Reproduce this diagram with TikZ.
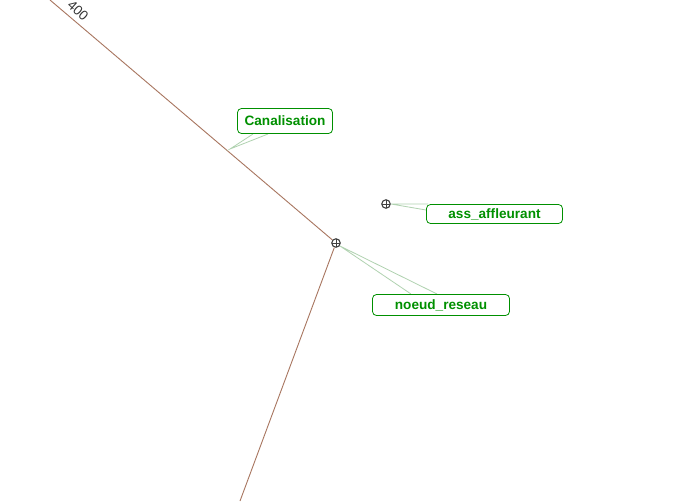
\documentclass[tikz,border=0pt]{standalone}
\usepackage{fontspec}
\setmainfont{Liberation Sans}
\definecolor{boxgreen}{HTML}{009000}
\definecolor{tailgreen}{HTML}{B0D2B0}
\definecolor{pipe}{HTML}{A87660}
\tikzset{
  label box/.style={draw=boxgreen,fill=white,rounded corners=4pt,line width=0.8pt,text=boxgreen,inner sep=0pt,font=\fontsize{13.6}{15}\selectfont\bfseries,align=center},
  tail/.style={draw=tailgreen,line width=0.8pt},
  pipeline/.style={draw=pipe,line width=0.9pt},
  junction/.style={circle,draw=black!75,line width=1.1pt,minimum size=8.5pt,inner sep=0pt,path picture={\draw[black!75,line width=1pt] (path picture bounding box.north)--(path picture bounding box.south) (path picture bounding box.west)--(path picture bounding box.east);}}
}
\begin{document}
\begin{tikzpicture}[x=1pt,y=-1pt]
\useasboundingbox[fill=white] (0,0) rectangle (675,501);
\coordinate (pipeStart) at (50,0);
\coordinate (pipeEnd) at (240,501);
\coordinate (tipC) at (230,149);
\coordinate (c1) at (253,134);
\coordinate (c2) at (268,134);
\coordinate (a1) at (426,210);
\coordinate (a2) at (428,204);
\coordinate (n1) at (411,294);
\coordinate (n2) at (437,294);
\coordinate (tipN) at (340,246);
\coordinate (tipA) at (391,204);
\node[junction] (nr) at (336,243) {};
\node[junction] (aa) at (386,204) {};
\draw[pipeline] (pipeStart) -- (nr);
\draw[pipeline] (nr) -- (pipeEnd);
\draw[tail] (c1) -- (tipC) -- (c2);
\draw[tail] (a1) -- (tipA) -- (a2);
\draw[tail] (n1) -- (tipN) -- (n2);
\node[label box,minimum width=95pt,minimum height=25pt] (can) at (285,121) {Canalisation};
\node[label box,minimum width=136pt,minimum height=19pt] (ass) at (494.5,214) {ass\_affleurant};
\node[label box,minimum width=137pt,minimum height=21pt] (noe) at (441,305) {noeud\_reseau};
\node[rotate=-42,text=black!80,font=\fontsize{13.5}{15}\selectfont,inner sep=0pt] (val) at (78,11) {400};
\end{tikzpicture}
\end{document}
